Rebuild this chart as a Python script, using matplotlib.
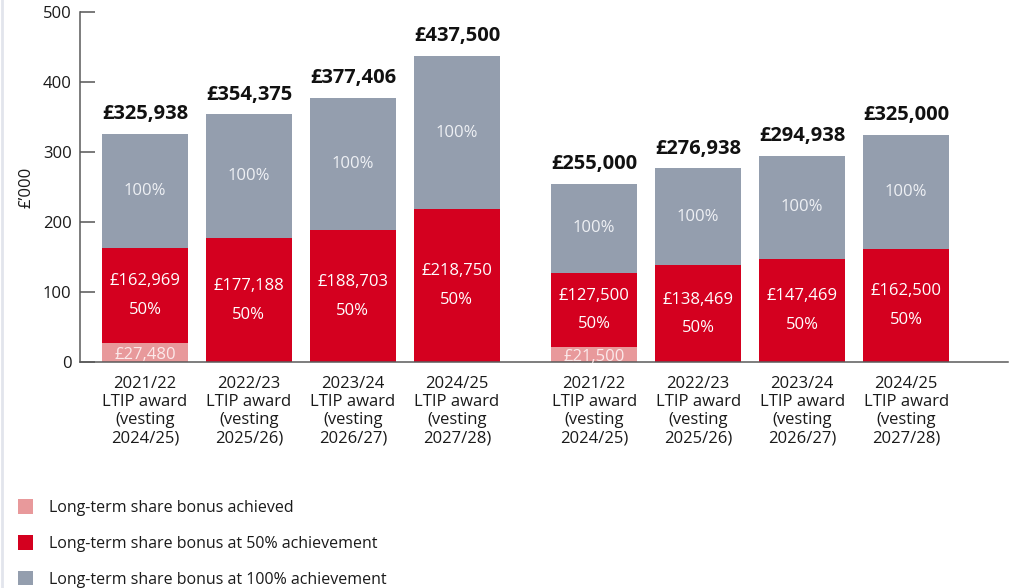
import matplotlib.pyplot as plt
from matplotlib.lines import Line2D
from matplotlib.patches import Patch

plt.rcParams['font.family'] = ['Open Sans', 'DejaVu Sans']

# Award categories (two panels of four LTIP awards)
categories = [
    "2021/22\nLTIP award\n(vesting\n2024/25)",
    "2022/23\nLTIP award\n(vesting\n2025/26)",
    "2023/24\nLTIP award\n(vesting\n2026/27)",
    "2024/25\nLTIP award\n(vesting\n2027/28)",
    "2021/22\nLTIP award\n(vesting\n2024/25)",
    "2022/23\nLTIP award\n(vesting\n2025/26)",
    "2023/24\nLTIP award\n(vesting\n2026/27)",
    "2024/25\nLTIP award\n(vesting\n2027/28)",
]
# Values in £
total_100 = [325938, 354375, 377406, 437500, 255000, 276938, 294938, 325000]
at_50 = [162969, 177188, 188703, 218750, 127500, 138469, 147469, 162500]
achieved = [27480, 0, 0, 0, 21500, 0, 0, 0]

positions = [0, 1, 2, 3, 4.32, 5.32, 6.32, 7.32]
bar_w = 0.83

c_pink = '#e8999b'
c_red = '#d4001f'
c_grey = '#949eae'

fig = plt.figure(figsize=(10.11, 5.88), dpi=100)
ax = fig.add_axes([0.0791, 0.3838, 0.9179, 0.5952])

k = 1000.0
ach = [a / k for a in achieved]
red_h = [(m - a) / k for m, a in zip(at_50, achieved)]
grey_h = [(t - m) / k for t, m in zip(total_100, at_50)]
red_bottom = ach
grey_bottom = [m / k for m in at_50]

ax.bar(positions, ach, bar_w, color=c_pink, linewidth=0)
ax.bar(positions, red_h, bar_w, bottom=red_bottom, color=c_red, linewidth=0)
ax.bar(positions, grey_h, bar_w, bottom=grey_bottom, color=c_grey, linewidth=0)

for x, t, m, a in zip(positions, total_100, at_50, achieved):
    top = t / k
    ax.annotate(f"£{t:,}", (x, top), xytext=(0, 7), textcoords='offset points',
                ha='center', va='bottom', fontsize=14.5, fontweight='bold',
                color='#111111')
    # 100% label in the centre of the grey segment
    ax.text(x, (m / k + top) / 2, "100%", ha='center', va='center',
            fontsize=12, color='#eef0f4')
    # 50% value label in the centre of the red segment
    rc = (a / k + m / k) / 2
    ax.text(x, rc, f"£{m:,}\n50%", ha='center', va='center', fontsize=12,
            color='white', linespacing=2.05)
    if a:
        ax.text(x, a / k / 2 - 3, f"£{a:,}", ha='center', va='center',
                fontsize=12, color='#fbe9ea')

ax.set_xlim(-0.625, 8.30)
ax.set_ylim(0, 500)
ax.set_yticks([0, 100, 200, 300, 400, 500])
ax.set_xticks(positions)
ax.set_xticklabels(categories, fontsize=12, color='#1a1a1a', linespacing=1.17)
ax.tick_params(axis='x', length=0, pad=10)
ax.tick_params(axis='y', direction='in', length=11, width=1.1, color='#555555',
               labelsize=12, labelcolor='#1a1a1a', pad=6)
for s in ('top', 'right'):
    ax.spines[s].set_visible(False)
for s in ('left', 'bottom'):
    ax.spines[s].set_color('#5a5a5a')
    ax.spines[s].set_linewidth(1.1)
ax.set_ylabel("£’000", fontsize=12, color='#1a1a1a', labelpad=6)

# Faint page border on the left edge
fig.add_artist(Line2D([0.002, 0.002], [0, 1], transform=fig.transFigure,
                      color='#e2e5ec', linewidth=2))

legend_items = [
    (c_pink, "Long-term share bonus achieved"),
    (c_red, "Long-term share bonus at 50% achievement"),
    (c_grey, "Long-term share bonus at 100% achievement"),
]
handles = [Patch(facecolor=c, edgecolor='none') for c, _ in legend_items]
labels = [t for _, t in legend_items]
fig.legend(handles, labels, loc='upper left', bbox_to_anchor=(0.011, 0.1614),
           frameon=False, fontsize=11.5, handlelength=1.0, handleheight=1.0,
           handletextpad=0.95, labelspacing=1.2, borderaxespad=0,
           labelcolor='#1a1a1a')

fig.savefig('out.png', dpi=100)
